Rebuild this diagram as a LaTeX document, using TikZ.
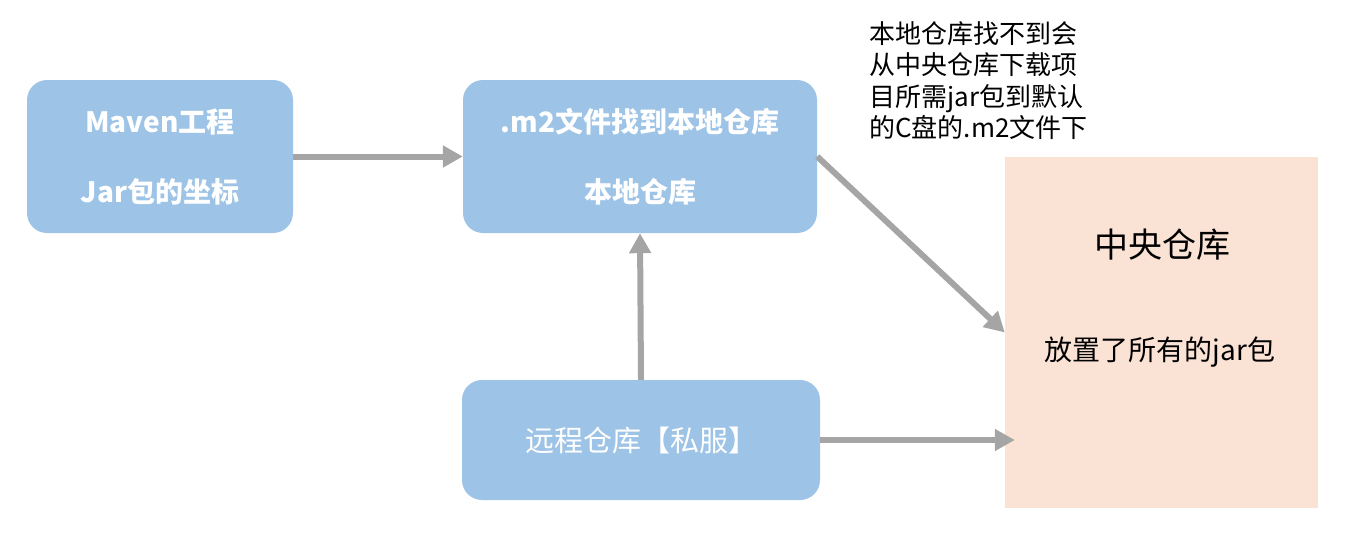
\documentclass[tikz,border=0pt]{standalone}
\usepackage{fontspec}
\newfontfamily\cjk{Noto Sans CJK SC}
\usetikzlibrary{arrows.meta}
\definecolor{boxblue}{HTML}{9DC3E6}
\definecolor{peach}{HTML}{FAE3D5}
\definecolor{linkgray}{HTML}{A5A5A5}
\begin{document}
\begin{tikzpicture}[x=1pt,y=-1pt,
	box/.style={fill=boxblue,rounded corners=20pt,text=white,font=\cjk\bfseries\fontsize{28}{70}\selectfont,align=center,inner sep=0pt},
	link/.style={draw=linkgray,line width=6pt,-{Triangle[length=20pt,width=21pt]}}]
	\useasboundingbox (0,0) rectangle (1348,547);
	\node[box,minimum width=266pt,minimum height=153pt] (maven) at (160,156.5) {Maven工程\\Jar包的坐标};
	\node[box,minimum width=354pt,minimum height=153pt] (local) at (640,156.5) {.m2文件找到本地仓库\\本地仓库};
	\node[box,minimum width=358pt,minimum height=120pt,font=\cjk\fontsize{29}{34}\selectfont] (remote) at (641,440) {远程仓库【私服】};
	\node[fill=peach,minimum width=313pt,minimum height=351pt,inner sep=0pt] (central) at (1161.5,332.5) {};
	\node[font=\cjk\fontsize{34}{40}\selectfont] (centraltitle) at (1162,245) {中央仓库};
	\node[font=\cjk\fontsize{28}{32}\selectfont] (centralnote) at (1160,352) {放置了所有的jar包};
	\node[anchor=north west,align=left,inner sep=0pt,font=\cjk\fontsize{26}{31.5}\selectfont] (note) at (869,21) {本地仓库找不到会\\从中央仓库下载项\\目所需jar包到默认\\的C盘的.m2文件下};
	\draw[link] (maven.east) -- (local.west);
	\draw[link] (local.east) -- (central.west);
	\draw[link] (remote.north) -- (local.south);
	\draw[link,shorten >=-10pt] (remote.east) -- (remote.east -| central.west);
\end{tikzpicture}
\end{document}
